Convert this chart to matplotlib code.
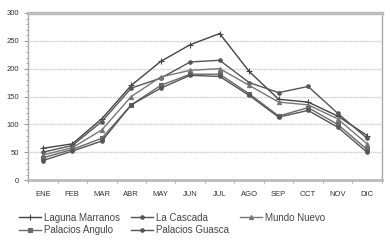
import matplotlib
matplotlib.use("Agg")
import matplotlib.pyplot as plt
from matplotlib.ticker import MultipleLocator

months = ["ENE", "FEB", "MAR", "ABR", "MAY", "JUN", "JUL", "AGO", "SEP", "OCT", "NOV", "DIC"]
laguna_marranos = [57, 65, 110, 170, 213, 243, 263, 195, 145, 140, 115, 80]
la_cascada = [50, 62, 105, 165, 183, 212, 215, 175, 157, 168, 120, 75]
mundo_nuevo = [45, 58, 90, 150, 185, 197, 200, 170, 140, 135, 110, 65]
palacios_angulo = [40, 55, 75, 135, 170, 190, 190, 155, 115, 130, 100, 55]
palacios_guasca = [35, 52, 70, 135, 165, 188, 186, 152, 113, 125, 95, 50]
y_ticks = [0, 50, 100, 150, 200, 250, 300]

plt.rcParams['font.family'] = ['Liberation Sans', 'DejaVu Sans']

fig = plt.figure(figsize=(3.9, 2.44), dpi=100)
ax = fig.add_axes([0.072, 0.262, 0.907, 0.685])

x = list(range(len(months)))
series = [
    ("Laguna Marranos", laguna_marranos, "+", "#444444", 4),
    ("La Cascada", la_cascada, "o", "#555555", 2.5),
    ("Mundo Nuevo", mundo_nuevo, "^", "#777777", 3),
    ("Palacios Angulo", palacios_angulo, "s", "#6a6a6a", 3),
    ("Palacios Guasca", palacios_guasca, "o", "#555555", 2.5),
]
handles = {}
for name, vals, mk, col, ms in series:
    h, = ax.plot(x, vals, color=col, lw=1.0, marker=mk, ms=ms,
                 markeredgewidth=0.8, label=name, zorder=3)
    handles[name] = h

ax.set_xlim(-0.5, 11.5)
ax.set_ylim(0, 300)
ax.set_yticks(y_ticks)
ax.yaxis.set_minor_locator(MultipleLocator(10))
ax.set_xticks(x)
ax.set_xticklabels(months)
ax.set_xticks([i - 0.5 for i in range(13)], minor=True)
ax.tick_params(axis='x', which='major', length=0, labelsize=5.5, pad=8, colors='#333333')
ax.tick_params(axis='x', which='minor', length=2.5, color='#999999')
ax.tick_params(axis='y', which='major', length=3, labelsize=5.5, colors='#333333', color='#999999')
ax.tick_params(axis='y', which='minor', length=1.5, color='#999999')

for v in y_ticks[1:-1]:
    ax.axhline(v, color='#cccccc', lw=1.0, ls=(0, (1, 0.6)), zorder=1)

ax.spines['top'].set_color('#bbbbbb')
ax.spines['top'].set_linewidth(2.5)
ax.spines['bottom'].set_color('#bbbbbb')
ax.spines['bottom'].set_linewidth(2.0)
ax.spines['left'].set_color('#aaaaaa')
ax.spines['left'].set_linewidth(1.0)
ax.spines['right'].set_color('#aaaaaa')
ax.spines['right'].set_linewidth(1.0)

order = ["Laguna Marranos", "Palacios Angulo", "La Cascada", "Palacios Guasca", "Mundo Nuevo"]
fig.legend([handles[n] for n in order], order, loc='upper left',
           bbox_to_anchor=(0.04, 0.145), ncol=3, frameon=False,
           fontsize=7, handlelength=2.2, handletextpad=0.3,
           columnspacing=1.2, labelspacing=0.25, borderaxespad=0,
           labelcolor='#444444')

fig.savefig("out.png", dpi=100)
